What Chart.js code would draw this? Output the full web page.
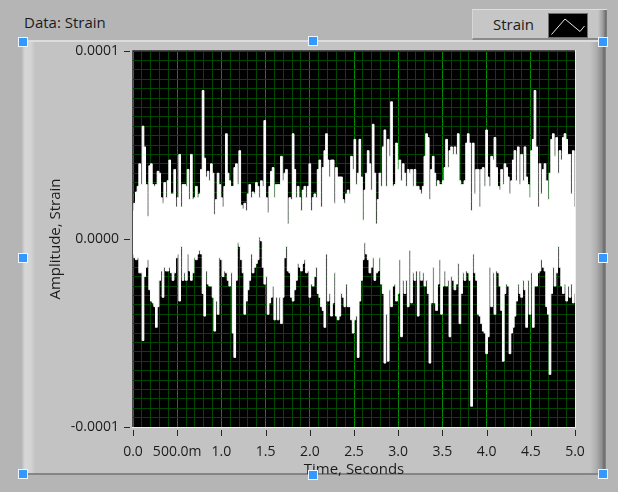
<!DOCTYPE html>
<html>
<head>
<meta charset="utf-8">
<script src="https://cdn.jsdelivr.net/npm/chart.js@4.4.1/dist/chart.umd.min.js"></script>
<style>
  html, body { margin: 0; padding: 0; }
  body { width: 618px; height: 492px; background: #b5b5b5; position: relative; overflow: hidden;
         font-family: 'Open Sans', sans-serif; color: #1c1c1c; }
  #panel { position: absolute; left: 22px; top: 40px; width: 584px; height: 435px; box-sizing: border-box;
           background: #c3c3c3; border-top: 2px solid #dcdcdc; border-bottom: 2px solid #858585; }
  #panel .lb { position: absolute; left: 0; top: 0; bottom: 0; width: 13px;
               background: linear-gradient(90deg, #bcbcbc 0px, #d8d8d8 3px, #d3d3d3 9px, #c3c3c3 13px); }
  #panel .rb { position: absolute; right: 0; top: 0; bottom: 0; width: 16px;
               background: linear-gradient(90deg, #c3c3c3 0px, #b0b0b0 6px, #8e8e8e 12px, #6a6a6a 14px, #8a8a8a 16px); }
  #caption { position: absolute; left: 24px; top: 12px; font-size: 15px; line-height: 20px; white-space: nowrap; }
  #legend { position: absolute; left: 472px; top: 9px; width: 135px; height: 31px; box-sizing: border-box;
            background: #c6c6c6; border-top: 1px solid #dedede; border-left: 1px solid #d6d6d6; border-bottom: 2px solid #8a8a8a; }
  #legend .rb { position: absolute; right: 0; top: 0; bottom: 0; width: 9px;
                background: linear-gradient(90deg, #c6c6c6 0px, #9a9a9a 5px, #6a6a6a 8px, #8a8a8a 9px); }
  #legend .txt { position: absolute; left: 20px; top: 4px; font-size: 15px; line-height: 20px; white-space: nowrap; }
  #legend svg { position: absolute; left: 75px; top: 3px; }
  canvas { position: absolute; left: 0; top: 0; }
  .h { position: absolute; width: 8px; height: 8px; background: #3399ff; border: 1px solid #eef5ff; }
</style>
</head>
<body>
<div id="panel"><div class="lb"></div><div class="rb"></div></div>
<div id="caption">Data: Strain</div>
<canvas id="c" width="618" height="492"></canvas>
<div id="legend">
  <div class="txt">Strain</div>
  <svg width="40" height="25" viewBox="0 0 40 25">
    <rect x="0.5" y="0.5" width="39" height="24" fill="#000" stroke="#6e6e6e"/>
    <polyline points="3.5,21.5 17,6 32,18.5 36.5,13" fill="none" stroke="#e8e8e8" stroke-width="1"/>
  </svg>
  <div class="rb"></div>
</div>
<div class="h" style="left:18px;top:37px"></div>
<div class="h" style="left:308px;top:36px"></div>
<div class="h" style="left:598px;top:37px"></div>
<div class="h" style="left:18px;top:253px"></div>
<div class="h" style="left:598px;top:253px"></div>
<div class="h" style="left:18px;top:469px"></div>
<div class="h" style="left:308px;top:470px"></div>
<div class="h" style="left:598px;top:469px"></div>

<script>
// ---- data (micro-strain), one value per ~1.7 px display column ----
// upper extreme of the waveform in each column
const envelopeMax = [
  15,19,25,28,40,29,60,49,29,12, 39,40,29,28,29,36,35,22,19,30,
  22,31,42,24,24,37,17,22,45,17, 29,29,28,37,21,45,21,22,28,22,
  24,37,79,43,33,36,31,40,35,13, 21,35,29,22,17,28,56,35,31,28,
  28,38,40,29,47,18,16,19,15,24, 29,22,25,24,30,28,22,31,28,63,
  22,14,28,36,38,22,29,29,
  29,44,31,35,37,8,22,21,56,37, 22,28,22,15,26,28,22,28,40,15,
  22,24,22,37,42,17,38,47,56,42, 33,42,42,19,38,33,33,33,21,19,
  24,26,24,44,37,53,29,35,53,33, 10,26,35,47,40,26,61,35,8,21,
  35,28,49,58,28,53,44,73,28,29, 51,37,42,31,40,35,28,37,35,37,
  28,37,28,28,26,24,28,
  44,56,54,21,37,44,35,28,31,29, 29,31,38,53,38,47,49,45,49,45,
  56,31,29,29,31,51,56,51,15,51, 24,37,37,17,37,38,28,58,33,28,
  44,42,54,38,28,26,37,29,40,38, 33,24,31,42,47,31,49,29,45,31,
  49,33,29,22,47,53,79,49,17,40, 24,37,40,31,21,35,53,56,44,54,
  35,47,42,54,56,53,45,45,24,47, 17
];
// lower extreme of the waveform in each column
const envelopeMin = [
  -8,-10,-11,-10,-18,-18,-54,-20,-15,-11, -27,-33,-34,-36,-47,-36,-22,-17,-31,-15,
  -17,-17,-15,-18,-22,-18,-10,-8,-33,-4, -22,-18,-22,-8,-17,-22,-18,-10,-11,-8,
  -6,-8,-29,-41,-17,-24,-25,-25,-31,-49, -33,-40,-10,-11,-20,-17,-18,-22,-25,-18,
  -50,-63,-22,-2,-4,-11,-18,-40,-33,-27, -22,-8,-18,-15,-13,-11,1,-1,-15,-24,
  -20,-40,-34,-31,-25,-43,-31,-43,
  -31,-45,-31,-10,-4,-17,-18,-31,-33,-27, -22,-13,-15,-17,-13,-11,-18,-17,-31,-24,
  -25,-20,-15,-29,-31,-36,-38,-47,-8,-33, -29,-41,-34,-18,-41,-43,-41,-29,-31,-36,
  -24,-36,-36,-43,-50,-43,-41,-63,-33,-22, -11,-2,-8,-11,-18,-15,-10,-22,-18,-17,
  -10,-24,-29,-66,-40,-65,-27,-36,-25,-24, -33,-29,-11,-52,-22,-29,-22,-36,-6,-34,
  -18,-22,-17,-41,-17,-22,-18,
  -25,-22,-29,-66,-34,-15,-34,-38,-24,-11, -40,-25,-17,-25,-22,-52,-20,-22,-27,-24,
  -13,-45,-29,-18,-22,-17,-18,-22,-89,-8, -18,-22,-40,-41,-45,-49,-50,-61,-52,-15,
  -36,-18,-40,-17,-18,-25,-38,-65,-29,-24, -25,-61,-50,-47,-41,-33,-24,-29,-31,-22,
  -27,-47,-22,-40,-18,-47,-25,-25,-18,-17, -11,-15,-17,-36,-40,-72,-29,-15,-25,-18,
  -4,-15,-25,-29,-24,-33,-25,-31,-24,-34, -29
];
const MICRO = 1e-6;
const timeRange = [0, 5];
const xTickValues = [0, 0.5, 1, 1.5, 2, 2.5, 3, 3.5, 4, 4.5, 5];
const xTickLabels = ['0.0', '500.0m', '1.0', '1.5', '2.0', '2.5', '3.0', '3.5', '4.0', '4.5', '5.0'];
const yRange = [-0.0001, 0.0001];
const yTickValues = [-0.0001, 0, 0.0001];
const yTickLabels = ['-0.0001', '0.0000', '0.0001'];

// ---- build the two edges of the waveform band, in time order ----
const N = Math.min(envelopeMax.length, envelopeMin.length);
const dt = (timeRange[1] - timeRange[0]) / (N - 1);
const upperEdge = envelopeMax.slice(0, N).map((v, i) => ({ x: timeRange[0] + i * dt, y: v * MICRO }));
const lowerEdge = envelopeMin.slice(0, N).map((v, i) => ({ x: timeRange[0] + i * dt, y: v * MICRO }));

const FONT = "'Open Sans', sans-serif";
const TEXT = '#1c1c1c';
const GRID_MINOR = '#004800';
const GRID_MAJOR = '#008a00';
const near = (a, b, tol) => Math.abs(a - b) < tol;

const framePlugin = {
  id: 'labviewFrame',
  beforeDraw(chart) {
    const { ctx, chartArea: a } = chart;
    ctx.save();
    ctx.fillStyle = '#000000';
    ctx.fillRect(a.left, a.top, a.right - a.left, a.bottom - a.top);
    ctx.restore();
  },
  afterDraw(chart) {
    const { ctx, chartArea: a, scales: { x, y } } = chart;
    ctx.save();
    ctx.lineWidth = 1;
    ctx.strokeStyle = '#4c4c4c';
    ctx.beginPath();
    ctx.moveTo(a.left - 0.5, a.bottom);
    ctx.lineTo(a.left - 0.5, a.top - 0.5);
    ctx.lineTo(a.right, a.top - 0.5);
    ctx.stroke();
    ctx.strokeStyle = '#eeeeee';
    ctx.beginPath();
    ctx.moveTo(a.left - 1, a.bottom + 0.5);
    ctx.lineTo(a.right + 0.5, a.bottom + 0.5);
    ctx.lineTo(a.right + 0.5, a.top - 1);
    ctx.stroke();
    ctx.strokeStyle = '#262626';
    xTickValues.forEach(v => {
      const px = Math.round(x.getPixelForValue(v)) + 0.5;
      ctx.beginPath(); ctx.moveTo(px, a.bottom + 3); ctx.lineTo(px, a.bottom + 9); ctx.stroke();
    });
    yTickValues.forEach(v => {
      const py = Math.round(y.getPixelForValue(v)) + 0.5;
      ctx.beginPath(); ctx.moveTo(a.left - 9, py); ctx.lineTo(a.left - 3, py); ctx.stroke();
    });
    ctx.restore();
  }
};

new Chart(document.getElementById('c'), {
  type: 'line',
  data: {
    datasets: [{
      label: 'Strain',
      data: upperEdge,
      borderColor: '#ffffff',
      borderWidth: 1,
      pointRadius: 0,
      stepped: 'middle',
      fill: false
    }, {
      label: 'Strain (min)',
      data: lowerEdge,
      borderColor: '#ffffff',
      backgroundColor: '#ffffff',
      borderWidth: 1,
      pointRadius: 0,
      stepped: 'middle',
      fill: '-1'
    }]
  },
  options: {
    responsive: false,
    animation: false,
    events: [],
    parsing: false,
    normalized: true,
    layout: { padding: { left: 0, top: 51, right: 43, bottom: 0 } },
    plugins: { legend: { display: false }, title: { display: false }, tooltip: { enabled: false },
               filler: { propagate: false } },
    scales: {
      x: {
        type: 'linear', position: 'bottom', min: timeRange[0], max: timeRange[1],
        afterFit: s => { s.height = 65; },
        ticks: {
          stepSize: 0.1, maxTicksLimit: 200, autoSkip: false, maxRotation: 0, minRotation: 0,
          padding: 17, color: TEXT, font: { family: FONT, size: 14 },
          callback: v => { const k = xTickValues.findIndex(t => near(t, v, 1e-6)); return k < 0 ? '' : xTickLabels[k]; }
        },
        grid: { drawTicks: false, lineWidth: 1,
                color: c => xTickValues.some(t => near(t, c.tick.value, 1e-6)) ? GRID_MAJOR : GRID_MINOR },
        border: { display: false },
        title: { display: true, text: 'Time, Seconds', color: TEXT, font: { family: FONT, size: 15 },
                 padding: { top: 0, bottom: 13 } }
      },
      y: {
        type: 'linear', position: 'left', min: yRange[0], max: yRange[1],
        afterFit: s => { s.width = 133; },
        ticks: {
          stepSize: 0.000005, maxTicksLimit: 200, autoSkip: false,
          padding: 14, color: TEXT, font: { family: FONT, size: 14 },
          callback: v => { const k = yTickValues.findIndex(t => near(t, v, 1e-9)); return k < 0 ? '' : yTickLabels[k]; }
        },
        grid: { drawTicks: false, lineWidth: 1,
                color: c => near(c.tick.value, 0, 1e-9) ? GRID_MAJOR : GRID_MINOR },
        border: { display: false },
        title: { display: true, text: 'Amplitude, Strain', color: TEXT, font: { family: FONT, size: 15 },
                 padding: { top: 47, bottom: 0 } }
      }
    }
  },
  plugins: [framePlugin]
});
</script>
</body>
</html>
